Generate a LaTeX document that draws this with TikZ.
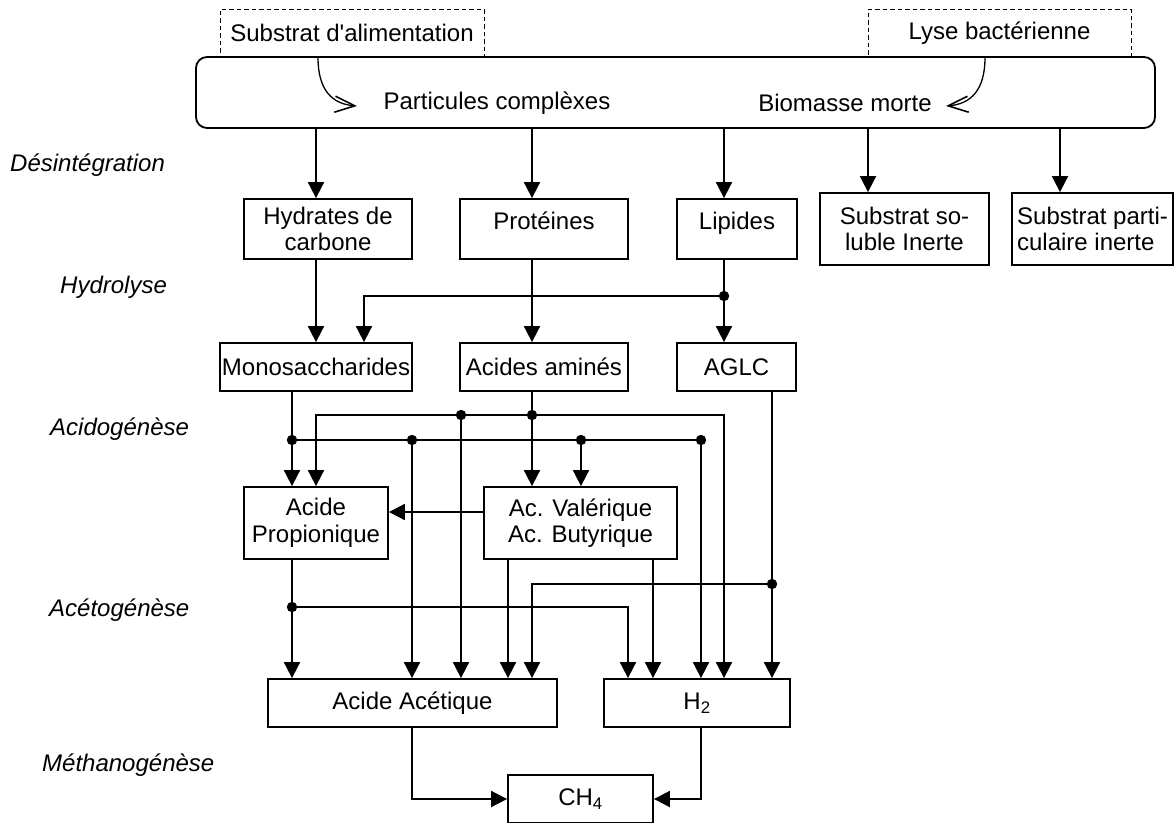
\documentclass[tikz,border=0pt]{standalone}
\usepackage{fontspec}
\setmainfont{Liberation Sans}[Ligatures=TeXOff]
\usetikzlibrary{arrows.meta}

\begin{document}
\begin{tikzpicture}[x=1pt,y=-1pt,
  every node/.style={font=\fontsize{24}{26.5}\selectfont, inner sep=0pt},
  box/.style={draw, line width=1.8pt, align=center},
  dbox/.style={draw, line width=0.9pt, dash pattern=on 4.5pt off 3pt},
  rbox/.style={draw, line width=1.8pt, rounded corners=11pt},
  stage/.style={font=\fontsize{24}{26.5}\selectfont\itshape, anchor=west},
  wire/.style={line width=1.8pt},
  arr/.style={line width=1.8pt, -{Triangle[width=16pt,length=16pt]}},
  feed/.style={line width=1.3pt, -{Straight Barb[length=20pt,width=16pt,line width=1.6pt]}},
  dot/.style={fill=black}
]
\useasboundingbox (0,0) rectangle (1175,822);

% column and row guides
\coordinate (c292) at (292,0);
\coordinate (c316) at (316,0);
\coordinate (c318) at (318,0);
\coordinate (c364) at (364,0);
\coordinate (c412) at (412,0);
\coordinate (c508) at (508,0);
\coordinate (c532) at (532,0);
\coordinate (c628) at (628,0);
\coordinate (c653) at (653,0);
\coordinate (c701) at (701,0);
\coordinate (c724) at (724,0);
\coordinate (c772) at (772,0);
\coordinate (c868) at (868,0);
\coordinate (c985) at (985,0);
\coordinate (c1060) at (1060,0);
\coordinate (r512) at (0,512);
\coordinate (r799) at (0,799);

% sources
\node[dbox, minimum width=264, minimum height=48] (sub) at (352,33) {Substrat d'alimentation};
\node[dbox, minimum width=263, minimum height=48] (lyse) at (999.5,33) {Lyse bactérienne};
\node[rbox, minimum width=959, minimum height=71] (pc) at (675.5,92.5) {};
\node (pctxt) at (497,103) {Particules complèxes};
\node (bmtxt) at (845,103) {Biomasse morte};
\coordinate (pcin) at (357,106);
\coordinate (bmin) at (946,106);
\draw[feed] (sub.south -| c318) .. controls (318,90) and (332,104) .. (pcin);
\draw[feed] (lyse.south -| c985) .. controls (985,90) and (971,104) .. (bmin);

% stage labels
\node[stage] (s1) at (10,165) {Désintégration};
\node[stage] (s2) at (60,287) {Hydrolyse};
\node[stage] (s3) at (50,429) {Acidogénèse};
\node[stage] (s4) at (49,610) {Acétogénèse};
\node[stage] (s5) at (42,765) {Méthanogénèse};

% compartments
\node[box, minimum width=168, minimum height=60] (hyd) at (328,229) {Hydrates de\\carbone};
\node[box, minimum width=168, minimum height=60] (pro) at (544,229) {\smash{Protéines}};
\node[box, minimum width=120, minimum height=60] (lip) at (737,229) {\smash{Lipides}};
\node[box, minimum width=169, minimum height=72] (sol) at (904.5,229) {Substrat so-\\luble Inerte};
\node[box, minimum width=161, minimum height=72, align=left] (par) at (1092.5,229) {Substrat parti-\\culaire inerte};

\node[box, minimum width=192, minimum height=48] (mono) at (316,367) {Monosaccharides};
\node[box, minimum width=168, minimum height=48] (ami) at (544,367) {Acides aminés};
\node[box, minimum width=119, minimum height=48] (aglc) at (736.5,367) {AGLC};

\node[box, minimum width=144, minimum height=72] (prop) at (316,523) {Acide\\Propionique};
\node[box, minimum width=193, minimum height=72] (val) at (580.5,523) {Ac. Valérique\\Ac. Butyrique};

\node[box, minimum width=289, minimum height=48] (ace) at (412.5,703) {Acide Acétique};
\node[box, minimum width=186, minimum height=48] (h2) at (697,703) {H\textsubscript{2}};

\node[box, minimum width=145, minimum height=48] (ch4) at (580.5,799) {CH\textsubscript{4}};

% junctions
\coordinate (jlip) at (724,296);
\coordinate (ja) at (532,415);
\coordinate (j461) at (461,415);
\coordinate (jm) at (292,440);
\coordinate (j412) at (412,440);
\coordinate (j581) at (581,440);
\coordinate (j701) at (701,440);
\coordinate (jg) at (772,584);
\coordinate (jp) at (292,607);

% disintegration
\draw[arr] (pc.south -| c316) -- (hyd.north -| c316);
\draw[arr] (pc.south -| c532) -- (pro.north -| c532);
\draw[arr] (pc.south -| c724) -- (lip.north -| c724);
\draw[arr] (pc.south -| c868) -- (sol.north -| c868);
\draw[arr] (pc.south -| c1060) -- (par.north -| c1060);

% hydrolysis
\draw[arr] (hyd.south -| c316) -- (mono.north -| c316);
\draw[arr] (pro.south -| c532) -- (ami.north -| c532);
\draw[arr] (lip.south -| c724) -- (aglc.north -| c724);
\draw[arr] (jlip) -| (mono.north -| c364);

% acidogenesis
\draw[arr] (mono.south -| c292) -- (prop.north -| c292);
\draw[wire] (jm) -- (j701);
\draw[arr] (j412) -- (ace.north -| j412);
\draw[arr] (j581) -- (val.north -| j581);
\draw[arr] (j701) -- (h2.north -| j701);
\draw[arr] (ami.south -| c532) -- (val.north -| c532);
\draw[arr] (ja) -| (prop.north -| c316);
\draw[arr] (ja) -| (h2.north -| c724);
\draw[arr] (j461) -- (ace.north -| j461);
\draw[arr] (val.west |- r512) -- (prop.east |- r512);

% acetogenesis
\draw[arr] (prop.south -| c292) -- (ace.north -| c292);
\draw[arr] (jp) -| (h2.north -| c628);
\draw[arr] (val.south -| c508) -- (ace.north -| c508);
\draw[arr] (val.south -| c653) -- (h2.north -| c653);
\draw[arr] (aglc.south -| c772) -- (h2.north -| c772);
\draw[arr] (jg) -| (ace.north -| c532);

% methanogenesis
\draw[arr] (ace.south -| c412) |- (ch4.west |- r799);
\draw[arr] (h2.south -| c701) |- (ch4.east |- r799);

% junction dots
\foreach \j in {jlip,ja,j461,jm,j412,j581,j701,jg,jp}
  \fill[dot] (\j) circle (5.2);
\end{tikzpicture}
\end{document}
